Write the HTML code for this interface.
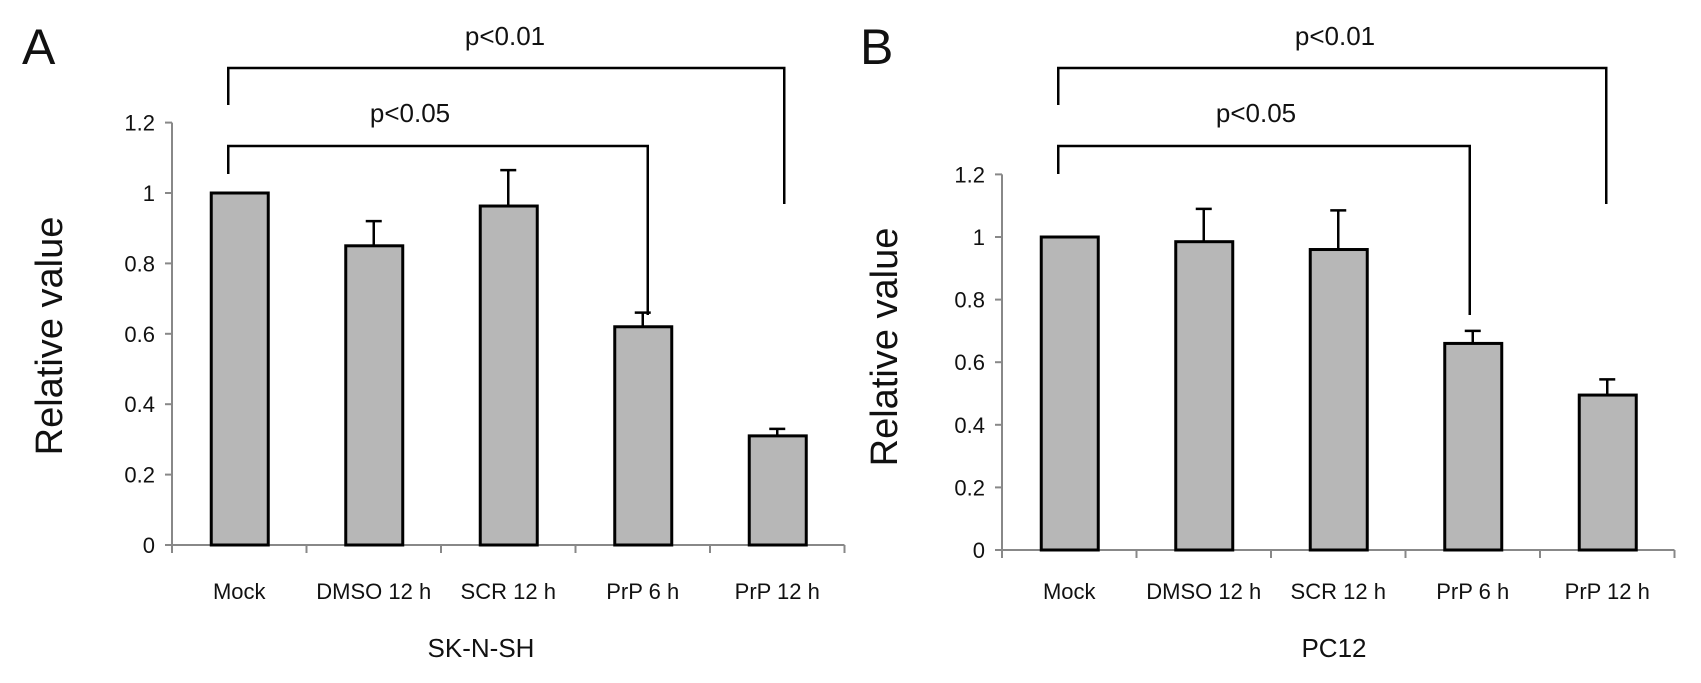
<!DOCTYPE html>
<html><head><meta charset="utf-8"><style>
body{margin:0;background:#fff;}
svg{display:block;font-family:"Liberation Sans",sans-serif;}
</style></head><body>
<svg id="chart" width="1701" height="683" viewBox="0 0 1701 683"></svg>
<script>
const categories=["Mock","DMSO 12 h","SCR 12 h","PrP 6 h","PrP 12 h"];
const valuesA=[1,0.85,0.963,0.62,0.31];
const errTopA=[null,0.92,1.065,0.66,0.33];
const valuesB=[1,0.985,0.96,0.66,0.495];
const errTopB=[null,1.09,1.085,0.70,0.545];
const yTicks=[0,0.2,0.4,0.6,0.8,1,1.2];
const yTickLabels=["0","0.2","0.4","0.6","0.8","1","1.2"];
const NS="http://www.w3.org/2000/svg";
const svg=document.getElementById('chart');
function mk(tag,attrs,parent){const e=document.createElementNS(NS,tag);for(const k in attrs)e.setAttribute(k,attrs[k]);(parent||svg).appendChild(e);return e;}
function panel(cfg){
  const g=mk('g',{});
  
  
  const y=v=>cfg.y0-v*cfg.scale;
  const x=i=>cfg.ax+cfg.cw*(i+0.5);
  const axisEnd=cfg.ax+cfg.cw*categories.length;
  const ya=mk('line',{x1:cfg.ax,y1:y(1.2),x2:cfg.ax,y2:cfg.y0,stroke:'#888','stroke-width':2},g);
  
  const xa=mk('line',{x1:cfg.ax-7,y1:cfg.y0,x2:axisEnd,y2:cfg.y0,stroke:'#888','stroke-width':2},g);
  
  yTicks.forEach((t,i)=>{
    mk('line',{x1:cfg.ax-7,y1:y(t),x2:cfg.ax,y2:y(t),stroke:'#888','stroke-width':2},g);
    const tx=mk('text',{x:cfg.ax-17,y:y(t)+8,'text-anchor':'end','font-size':22,fill:'#111'},g);
    tx.textContent=yTickLabels[i];
    
  });
  for(let i=0;i<=categories.length;i++){mk('line',{x1:cfg.ax+cfg.cw*i,y1:cfg.y0,x2:cfg.ax+cfg.cw*i,y2:cfg.y0+8,stroke:'#888','stroke-width':2},g);}
  categories.forEach((c,i)=>{
    const v=cfg.values[i];
    const b=mk('rect',{x:x(i)-28,y:y(v),width:57,height:cfg.y0-y(v),fill:'#b7b7b7',stroke:'#000','stroke-width':3},g);
    
    const e=cfg.err[i];
    if(e!==null){
      const el=mk('path',{d:`M${x(i)},${y(v)}V${y(e)}M${x(i)-8},${y(e)}H${x(i)+8}`,stroke:'#000','stroke-width':2.5,fill:'none'},g);
      
    }
    const t=mk('text',{x:x(i),y:599,'text-anchor':'middle','font-size':22,fill:'#111'},g);
    t.textContent=c;
  });
  const xt=mk('text',{x:cfg.xtx,y:657,'text-anchor':'middle','font-size':26,fill:'#111'},g);
  xt.textContent=cfg.title;
  const yt=mk('text',{x:0,y:0,'text-anchor':'middle','font-size':38,fill:'#111',transform:`translate(${cfg.ytx},${cfg.yty}) rotate(-90)`},g);
  yt.textContent='Relative value';
  const L=mk('text',{x:cfg.lx,y:64,'font-size':50,fill:'#111'},g);
  L.textContent=cfg.letter;
  const x0=x(0)-11,x3=x(3)+cfg.o3,x4=x(4)+cfg.o4;
  const b1=mk('path',{d:`M${x0},105V68H${x4}V204`,stroke:'#000','stroke-width':2.5,fill:'none'},g);
  
  const b2=mk('path',{d:`M${x0},174V146H${x3}V315`,stroke:'#000','stroke-width':2.5,fill:'none'},g);
  
  const s1=mk('text',{x:cfg.p1x,y:45,'text-anchor':'middle','font-size':26,fill:'#111'},g);
  s1.textContent='p<0.01';
  const s2=mk('text',{x:cfg.p2x,y:122,'text-anchor':'middle','font-size':26,fill:'#111'},g);
  s2.textContent='p<0.05';
}
panel({letter:'A',ax:172,cw:134.5,y0:545,scale:352,values:valuesA,err:errTopA,title:'SK-N-SH',xtx:481,ytx:62,yty:336,lx:22,p1x:505,p2x:410,o3:5,o4:7});
panel({letter:'B',ax:1002,cw:134.5,y0:550,scale:313,values:valuesB,err:errTopB,title:'PC12',xtx:1334,ytx:897,yty:347,lx:860,p1x:1335,p2x:1256,o3:-3,o4:-1});
</script>
</body></html>
